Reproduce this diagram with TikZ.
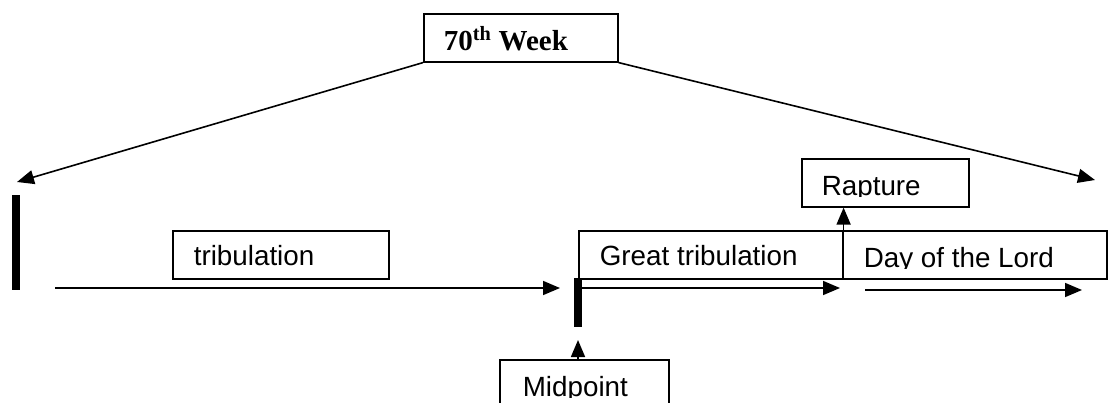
\documentclass[tikz,border=0pt]{standalone}
\usepackage{fontspec}
\setmainfont{Liberation Sans}
\newfontfamily\timesbf{Liberation Serif}
\usetikzlibrary{arrows.meta}

\begin{document}
\begin{tikzpicture}[x=1pt,y=-1pt,line width=1.6pt,
  >={Triangle[length=17pt,width=14pt]},
  lbl/.style={anchor=base west,inner sep=0pt,font=\fontsize{27.8}{32}\selectfont},
  tbox/.style={draw,anchor=north west,inner sep=0pt},
  bar/.style={line width=8pt}]
\clip (0,0) rectangle (1108,402);
% boxes
\node [tbox,minimum width=194pt,minimum height=48pt] (week) at (423,13) {};
\node [tbox,minimum width=216pt,minimum height=48pt] (trib) at (172,230) {};
\node [tbox,minimum width=264pt,minimum height=48pt] (gt) at (578,230) {};
\node [tbox,minimum width=264pt,minimum height=48pt] (day) at (842,230) {};
\node [tbox,minimum width=167pt,minimum height=48pt] (rapture) at (801,158) {};
\node [tbox,minimum width=169pt,minimum height=70pt] (mid) at (499,359) {};
% texts
\node [anchor=base west,inner sep=0pt,font=\timesbf\bfseries\fontsize{29}{33}\selectfont] (weektxt) at (443,50) {70\textsuperscript{th} Week};
\node [lbl] (tribtxt) at (193,265) {tribulation};
\node [lbl] (gttxt) at (599,265) {Great tribulation};
\begin{scope}
\clip (842,230) rectangle (1106,268);
\node [lbl] (daytxt) at (863,267) {Day of the Lord};
\end{scope}
\begin{scope}
\clip (801,158) rectangle (968,196);
\node [lbl] (rapturetxt) at (821,195) {Rapture};
\end{scope}
\begin{scope}
\clip (499,359) rectangle (668,397);
\node [lbl] (midtxt) at (522,396) {Midpoint};
\end{scope}
% bars
\draw [bar] (16,195) -- (16,290);
\draw [bar] (578,278) -- (578,327);
% arrows
\coordinate (ltip) at (17,182);
\coordinate (rtip) at (1095,180);
\draw [->] (week.south west) -- (ltip);
\draw [->] (week.south east) -- (rtip);
\coordinate (tstart) at (55,288);
\coordinate (tend) at (560,288);
\draw [->] (tstart) -- (tend);
\coordinate (gstart) at (580,288);
\coordinate (gend) at (840,288);
\draw [->] (gstart) -- (gend);
\coordinate (dstart) at (865,290);
\coordinate (dend) at (1082,290);
\draw [->] (dstart) -- (dend);
\draw [->] (gt.south east) -- (gt.south east |- rapture.south);
\coordinate (mtip) at (578,340);
\draw [->] (mid.north -| mtip) -- (mtip);
\end{tikzpicture}
\end{document}
